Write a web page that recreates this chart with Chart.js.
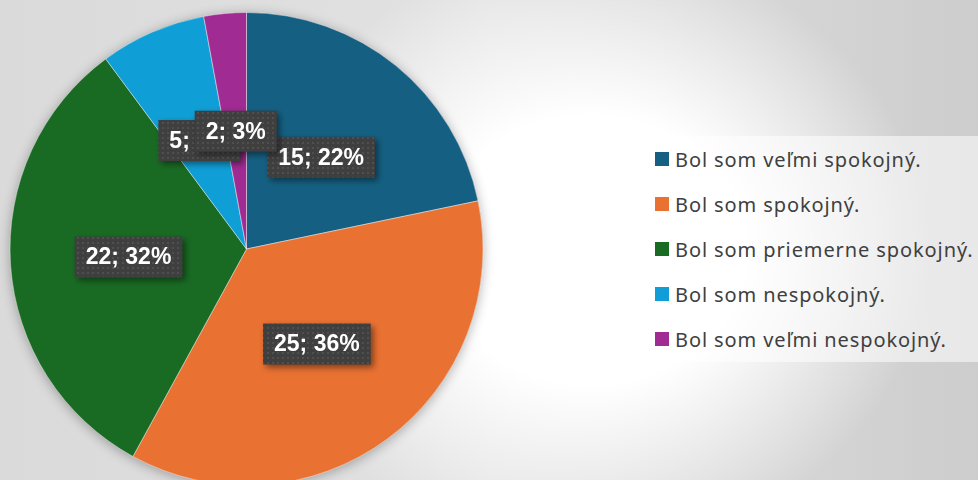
<!DOCTYPE html>
<html>
<head>
<meta charset="utf-8">
<script src="https://cdn.jsdelivr.net/npm/chart.js@4.4.1/dist/chart.umd.min.js"></script>
<style>
  html, body { margin: 0; padding: 0; width: 978px; height: 480px; overflow: hidden; }
  body {
    position: relative;
    background:
      radial-gradient(ellipse 340px 300px at 590px 250px, rgba(255,255,255,1) 45%, rgba(255,255,255,0) 100%),
      linear-gradient(to right, #dadada 0%, #e2e2e2 50%, #cdcdcd 100%);
  }
  #wrap { position: absolute; left: 0; top: 0; width: 500px; height: 500px; }
  #legend {
    position: absolute; left: 643px; top: 136px; width: 335px; height: 226px;
    background: rgba(255,255,255,0.55);
    font-family: "Noto Sans", sans-serif; font-size: 20px; letter-spacing: 0.9px; color: #404040;
  }
  .item { position: absolute; left: 12px; height: 20px; display: flex; align-items: center; white-space: nowrap; }
  .item span.box { width: 14px; height: 14px; margin-right: 6px; }
</style>
</head>
<body>
<div id="wrap"><canvas id="pie"></canvas></div>
<div id="legend"></div>
<script>
const labels = [
  'Bol som veľmi spokojný.',
  'Bol som spokojný.',
  'Bol som priemerne spokojný.',
  'Bol som nespokojný.',
  'Bol som veľmi nespokojný.'
];
const values = [15, 25, 22, 5, 2];
const colors = ['#156082', '#E97132', '#196B24', '#0F9ED5', '#A02B93'];

// legend as plain html
const legendEl = document.getElementById('legend');
labels.forEach((name, i) => {
  const row = document.createElement('div');
  row.className = 'item';
  row.style.top = (13 + i * 45) + 'px';
  row.innerHTML = `<span class="box" style="background:${colors[i]}"></span><span>${name}</span>`;
  legendEl.appendChild(row);
});

// dotted dark fill for the data label boxes
const patCanvas = document.createElement('canvas');
patCanvas.width = 5; patCanvas.height = 5;
const pctx = patCanvas.getContext('2d');
pctx.fillStyle = '#3f3f3f';
pctx.fillRect(0, 0, 5, 5);
pctx.fillStyle = '#4f4f4f';
pctx.fillRect(2, 2, 2, 2);

const pieShadow = {
  id: 'pieShadow',
  beforeDatasetsDraw(chart) {
    const arc = chart.getDatasetMeta(0).data[0];
    if (!arc) return;
    const ctx = chart.ctx;
    ctx.save();
    ctx.shadowColor = 'rgba(0,0,0,0.3)';
    ctx.shadowBlur = 12;
    ctx.shadowOffsetY = 2;
    ctx.fillStyle = '#888';
    ctx.beginPath();
    ctx.arc(arc.x, arc.y, arc.outerRadius, 0, Math.PI * 2);
    ctx.fill();
    ctx.restore();
  }
};

const boxLabels = {
  id: 'boxLabels',
  afterDatasetsDraw(chart) {
    const ctx = chart.ctx;
    const meta = chart.getDatasetMeta(0);
    const total = values.reduce((a, b) => a + b, 0);
    const pattern = ctx.createPattern(patCanvas, 'repeat');
    ctx.save();
    ctx.font = 'bold 23px "Liberation Sans", Arial, sans-serif';
    ctx.textAlign = 'center';
    ctx.textBaseline = 'middle';
    meta.data.forEach((arc, i) => {
      const p = arc.getCenterPoint();
      const txt = values[i] + '; ' + Math.round(values[i] / total * 100) + '%';
      const w = ctx.measureText(txt).width + 22;
      const h = 41;
      ctx.save();
      ctx.shadowColor = 'rgba(0,0,0,0.45)';
      ctx.shadowBlur = 6;
      ctx.shadowOffsetX = 3;
      ctx.shadowOffsetY = 3;
      ctx.fillStyle = pattern;
      ctx.fillRect(p.x - w / 2, p.y - h / 2, w, h);
      ctx.restore();
      ctx.fillStyle = '#ffffff';
      ctx.fillText(txt, p.x, p.y + 1);
    });
    ctx.restore();
  }
};

new Chart(document.getElementById('pie'), {
  type: 'pie',
  data: {
    labels: labels,
    datasets: [{
      data: values,
      backgroundColor: colors,
      borderColor: 'rgba(255,255,255,0.45)',
      borderWidth: 1
    }]
  },
  options: {
    responsive: true,
    maintainAspectRatio: false,
    animation: false,
    layout: { padding: { left: 9.5, top: 12, right: 16.5, bottom: 14 } },
    plugins: {
      legend: { display: false },
      tooltip: { enabled: false }
    }
  },
  plugins: [pieShadow, boxLabels]
});
</script>
</body>
</html>
